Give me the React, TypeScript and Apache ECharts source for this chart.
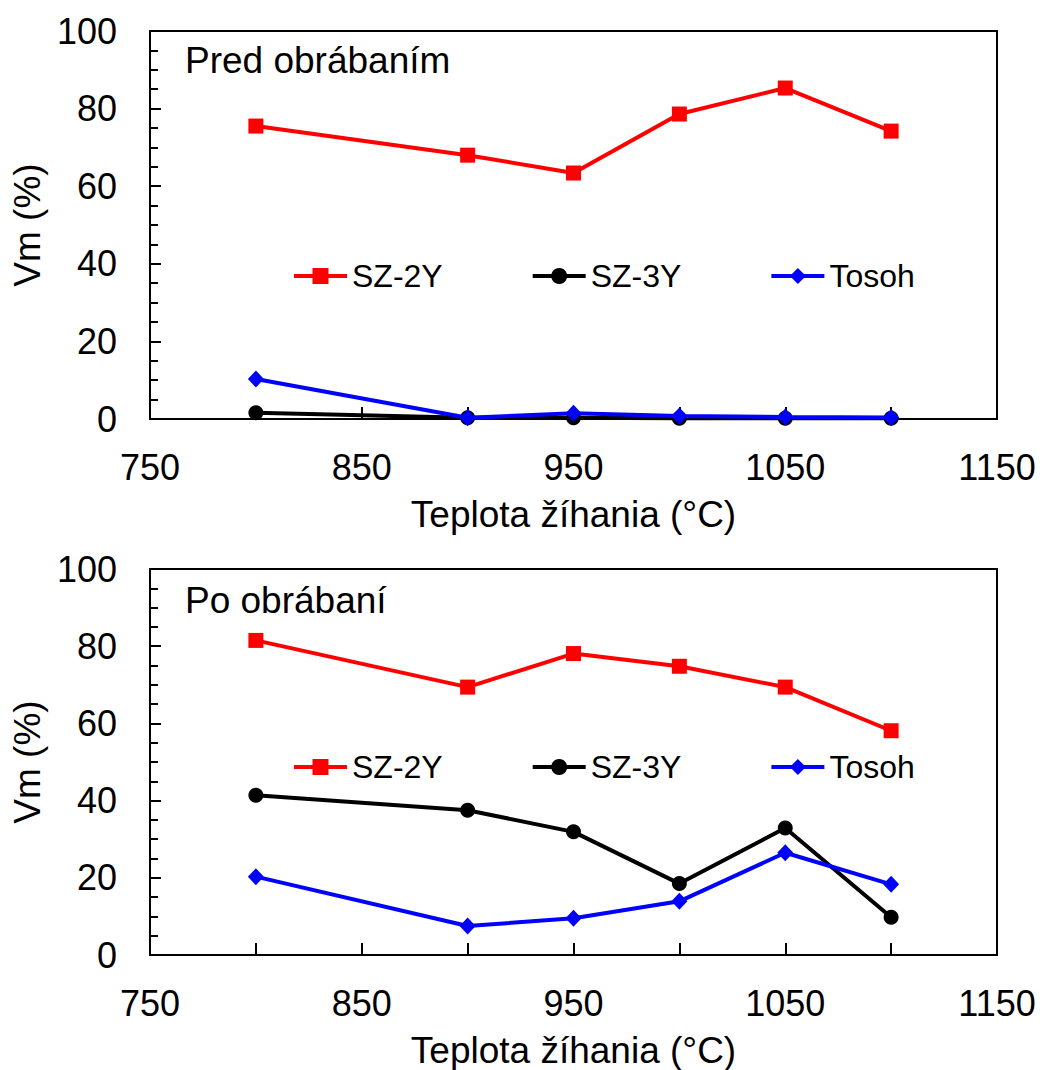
import React, { useEffect, useRef } from "react";
import * as echarts from "echarts";

const temps = [800, 900, 950, 1000, 1050, 1100];
const seriesNames = ["SZ-2Y", "SZ-3Y", "Tosoh"];
const panelTitles = ["Pred obrábaním", "Po obrábaní"];

// Panel 1: Pred obrábaním
const pred_SZ2Y = [75.5, 68.0, 63.4, 78.6, 85.3, 74.2];
const pred_SZ3Y = [1.6, 0.3, 0.3, 0.2, 0.2, 0.2];
const pred_Tosoh = [10.3, 0.3, 1.5, 0.8, 0.5, 0.4];

// Panel 2: Po obrábaní
const po_SZ2Y = [81.5, 69.4, 78.1, 74.8, 69.4, 58.1];
const po_SZ3Y = [41.4, 37.5, 31.9, 18.5, 32.9, 9.8];
const po_Tosoh = [20.3, 7.5, 9.5, 13.9, 26.5, 18.3];

const xMin = 750;
const xMax = 1150;
const xInterval = 100;
const yMin = 0;
const yMax = 100;
const yInterval = 20;

const FONT = "Liberation Sans";
const colors = ["#FF0000", "#000000", "#0000FF"];
const symbols = ["rect", "circle", "diamond"];
const symbolSizes: any[] = [15, 15, [16, 17]];

function pairs(vals: number[]) {
  return temps.map((t, i) => [t, vals[i]]);
}

export default function App() {
  const ref = useRef<HTMLDivElement>(null);
  useEffect(() => {
    if (!ref.current) return;
    const chart = echarts.init(ref.current, undefined, { renderer: "svg" });
    const grids = [
      { left: 150, top: 31, width: 847, height: 388 },
      { left: 150, top: 569, width: 847, height: 389 },
    ];
    const panelData = [
      [pred_SZ2Y, pred_SZ3Y, pred_Tosoh],
      [po_SZ2Y, po_SZ3Y, po_Tosoh],
    ];
    const xAxes = grids.map((_, gi) => ({
      type: "value",
      gridIndex: gi,
      min: xMin,
      max: xMax,
      interval: xInterval,
      name: "Teplota žíhania (°C)",
      nameLocation: "middle",
      nameGap: 77,
      nameTextStyle: { fontFamily: FONT, fontSize: 37, color: "#000" },
      axisLine: { show: true, lineStyle: { color: "#000", width: 2 } },
      axisTick: { show: true, inside: true, length: 12, lineStyle: { color: "#000", width: 2 } },
      minorTick: { show: true, splitNumber: 2, length: 12, lineStyle: { color: "#000", width: 2 } },
      splitLine: { show: false },
      minorSplitLine: { show: false },
      axisLabel: {
        fontFamily: FONT,
        fontSize: 36,
        color: "#000",
        margin: 30,
        formatter: (v: number) => String(v),
      },
    }));
    const yAxes = grids.map((_, gi) => ({
      type: "value",
      gridIndex: gi,
      min: yMin,
      max: yMax,
      interval: yInterval,
      name: "Vm (%)",
      nameLocation: "middle",
      nameGap: 100,
      nameTextStyle: { fontFamily: FONT, fontSize: 37, color: "#000" },
      axisLine: { show: true, lineStyle: { color: "#000", width: 2 } },
      axisTick: { show: true, inside: true, length: 11, lineStyle: { color: "#000", width: 2 } },
      minorTick: { show: true, splitNumber: 4, length: 8, lineStyle: { color: "#000", width: 2 } },
      splitLine: { show: false },
      minorSplitLine: { show: false },
      axisLabel: {
        fontFamily: FONT,
        fontSize: 36,
        color: "#000",
        margin: 33,
        formatter: (v: number) => String(v),
      },
    }));
    const series: any[] = [];
    panelData.forEach((set, gi) => {
      set.forEach((vals, si) => {
        series.push({
          type: "line",
          name: seriesNames[si],
          xAxisIndex: gi,
          yAxisIndex: gi,
          data: pairs(vals),
          symbol: symbols[si],
          symbolSize: symbolSizes[si],
          showAllSymbol: true,
          lineStyle: { color: colors[si], width: 4 },
          itemStyle: { color: colors[si] },
          z: 2 + si,
        });
      });
    });
    const legendTops = [255, 746];
    chart.setOption({
      animation: false,
      backgroundColor: "#fff",
      grid: grids.map((g) => ({ ...g, show: true, borderColor: "#000", borderWidth: 2, backgroundColor: "transparent" })),
      xAxis: xAxes,
      yAxis: yAxes,
      legend: legendTops.map((t) => ({
        data: seriesNames,
        left: 287,
        top: t,
        itemWidth: 53,
        itemHeight: 20,
        itemGap: 88,
        selectedMode: false,
        lineStyle: { width: 4 },
        textStyle: { fontFamily: FONT, fontSize: 32, color: "#000" },
      })),
      title: panelTitles.map((txt, i) => ({
        text: txt,
        left: 180,
        top: i === 0 ? 37 : 577,
        textStyle: { fontFamily: FONT, fontSize: 37, fontWeight: "normal", color: "#000" },
      })),
      series,
    });
    return () => chart.dispose();
  }, []);
  return (
    <div
      ref={ref}
      style={{ position: "absolute", left: 0, top: 0, width: 1043, height: 1070 }}
    />
  );
}
